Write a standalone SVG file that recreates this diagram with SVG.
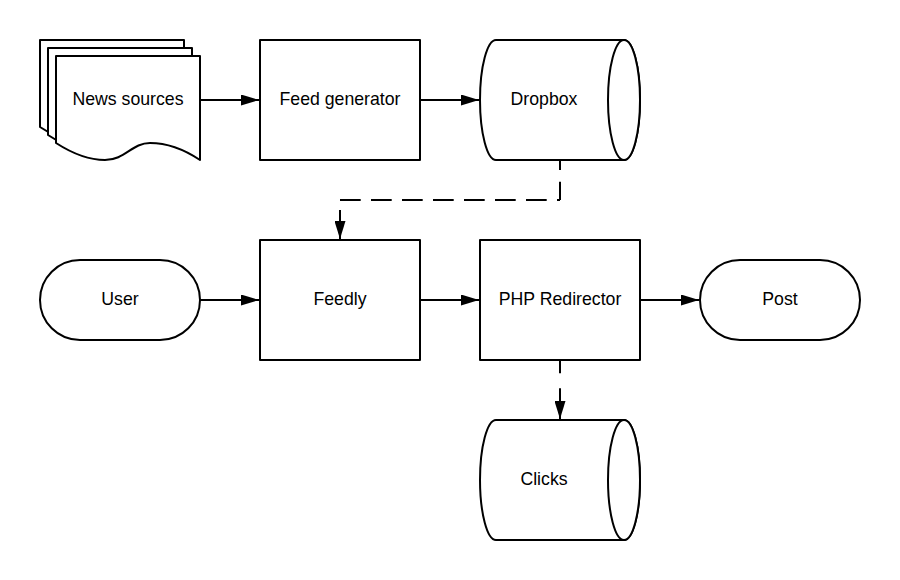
<svg xmlns="http://www.w3.org/2000/svg" width="900" height="580" viewBox="0 0 900 580">
<defs>
<style>
.shape{fill:#ffffff;stroke:#000000;stroke-width:2;stroke-linejoin:round}
.lbl{font-family:"Liberation Sans",Arial,sans-serif;font-size:17.7px;fill:#000000;text-anchor:middle}
.conn{fill:none;stroke:#000000;stroke-width:2}
</style>
<marker id="arr" markerUnits="userSpaceOnUse" markerWidth="18" markerHeight="11" refX="18" refY="5.5" orient="auto">
<path d="M0,0 L18,5.5 L0,11 Z" fill="#000000"/>
</marker>
<path id="doc" d="M56,56 H200 V160 C185,150 168,143 150,143 C132,143 125,160 105,160 C88,160 70,152 56,143 Z"/>
</defs>
<rect width="900" height="580" fill="#ffffff"/>
<g id="connectors">
<line class="conn" x1="200" y1="100" x2="259" y2="100" marker-end="url(#arr)"/>
<line class="conn" x1="420" y1="100" x2="479" y2="100" marker-end="url(#arr)"/>
<line class="conn" x1="200" y1="300" x2="259" y2="300" marker-end="url(#arr)"/>
<line class="conn" x1="420" y1="300" x2="479" y2="300" marker-end="url(#arr)"/>
<line class="conn" x1="640" y1="300" x2="699" y2="300" marker-end="url(#arr)"/>
<g id="dropbox-to-feedly">
<line class="conn" x1="560" y1="160" x2="560" y2="200" stroke-dasharray="10 11.7 18.3 0"/>
<line class="conn" x1="340" y1="200" x2="560" y2="200" stroke-dasharray="20.7 10.3"/>
<line class="conn" x1="340" y1="210" x2="340" y2="239" marker-end="url(#arr)"/>
</g>
<path id="php-to-clicks" class="conn" d="M560,360 V419" stroke-dasharray="13.3 15 100" marker-end="url(#arr)"/>
</g>
<g id="news-sources">
<use href="#doc" class="shape" transform="translate(-16,-16)"/>
<use href="#doc" class="shape" transform="translate(-8,-8)"/>
<use href="#doc" class="shape"/>
<text class="lbl" x="128" y="105">News sources</text>
</g>
<g id="feed-generator">
<rect class="shape" x="260" y="40" width="160" height="120"/>
<text class="lbl" x="340" y="105">Feed generator</text>
</g>
<g id="dropbox">
<path class="shape" d="M496,40 H624 A16,60 0 0 1 624,160 H496 A16,60 0 0 1 496,40 Z"/>
<ellipse class="shape" cx="624" cy="100" rx="16" ry="60"/>
<text class="lbl" x="544" y="105">Dropbox</text>
</g>
<g id="user">
<rect class="shape" x="40" y="260" width="160" height="80" rx="40" ry="40"/>
<text class="lbl" x="120" y="305">User</text>
</g>
<g id="feedly">
<rect class="shape" x="260" y="240" width="160" height="120"/>
<text class="lbl" x="340" y="305">Feedly</text>
</g>
<g id="php-redirector">
<rect class="shape" x="480" y="240" width="160" height="120"/>
<text class="lbl" x="560" y="305">PHP Redirector</text>
</g>
<g id="post">
<rect class="shape" x="700" y="260" width="160" height="80" rx="40" ry="40"/>
<text class="lbl" x="780" y="305">Post</text>
</g>
<g id="clicks">
<path class="shape" d="M496,420 H624 A16,60 0 0 1 624,540 H496 A16,60 0 0 1 496,420 Z"/>
<ellipse class="shape" cx="624" cy="480" rx="16" ry="60"/>
<text class="lbl" x="544" y="485">Clicks</text>
</g>
</svg>
